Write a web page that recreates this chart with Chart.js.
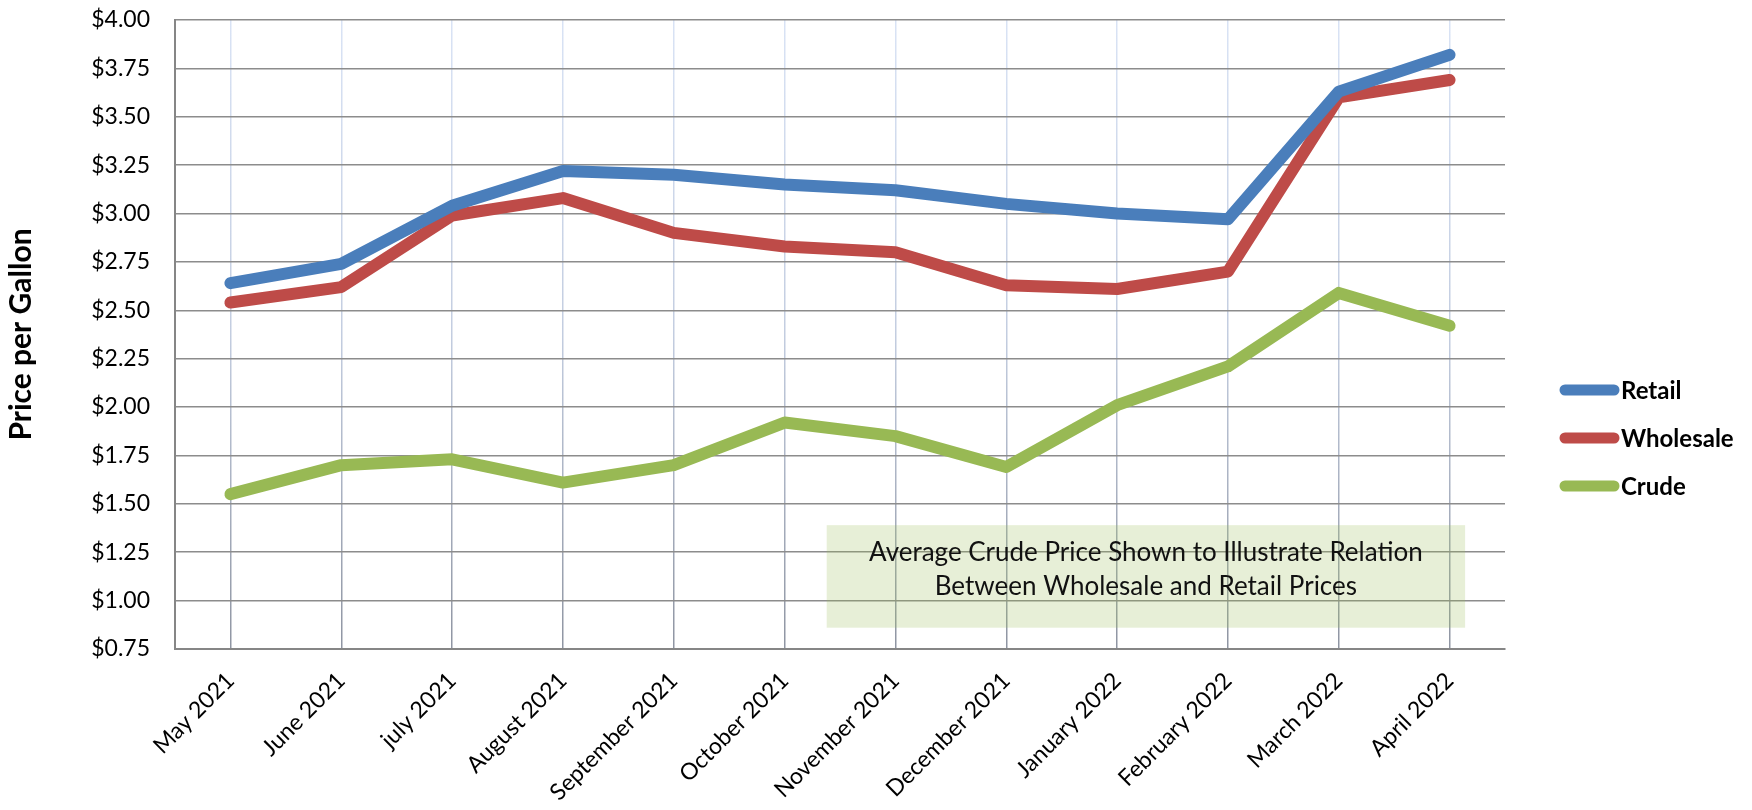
<!DOCTYPE html>
<html>
<head>
<meta charset="utf-8">
<script src="https://cdn.jsdelivr.net/npm/chart.js@4.4.1/dist/chart.umd.min.js"></script>
<style>
  html, body { margin: 0; padding: 0; background: #ffffff; }
  #wrap { width: 1752px; height: 810px; }
</style>
</head>
<body>
<div id="wrap"><canvas id="c" width="1752" height="810"></canvas></div>
<script>
const categories = ["May 2021", "June 2021", "july 2021", "August 2021", "September 2021", "October 2021",
  "November 2021", "December 2021", "January 2022", "February 2022", "March 2022", "April 2022"];
const retail    = [2.64, 2.74, 3.04, 3.22, 3.20, 3.15, 3.12, 3.05, 3.00, 2.97, 3.63, 3.82];
const wholesale = [2.54, 2.62, 2.99, 3.08, 2.90, 2.83, 2.80, 2.63, 2.61, 2.70, 3.60, 3.69];
const crude     = [1.55, 1.70, 1.73, 1.61, 1.70, 1.92, 1.85, 1.69, 2.01, 2.21, 2.59, 2.42];
const seriesNames = ["Retail", "Wholesale", "Crude"];
const seriesColors = ["#4a7ebb", "#be4b48", "#98b954"];
const yMin = 0.75, yMax = 4.00, yStep = 0.25;
const yTitle = "Price per Gallon";
const noteLines = ["Average Crude Price Shown to Illustrate Relation", "Between Wholesale and Retail Prices"];
const noteBox = { x0: 5.38, x1: 11.14, y0: 0.86, y1: 1.39 };

const FONT = "Lato, 'Open Sans', 'DejaVu Sans', sans-serif";

const gridGradient = (ctx) => {
  const chart = ctx.chart;
  const a = chart.chartArea;
  if (!a) return "#c8d3e8";
  const g = chart.ctx.createLinearGradient(0, a.top, 0, a.bottom);
  g.addColorStop(0, "#d9e3f5");
  g.addColorStop(0.5, "#c3cde0");
  g.addColorStop(1, "#8f95a2");
  return g;
};

const notePlugin = {
  id: "note",
  beforeDatasetsDraw(chart) {
    const { ctx, scales } = chart;
    const x = scales.x, y = scales.y;
    const left = x.getPixelForValue(noteBox.x0), right = x.getPixelForValue(noteBox.x1);
    const top = y.getPixelForValue(noteBox.y1), bottom = y.getPixelForValue(noteBox.y0);
    ctx.save();
    ctx.fillStyle = "rgba(155,187,89,0.24)";
    ctx.fillRect(left, top, right - left, bottom - top);
    ctx.fillStyle = "#111111";
    ctx.font = "26px " + FONT;
    ctx.textAlign = "center";
    ctx.textBaseline = "middle";
    const cx = (left + right) / 2, cy = (top + bottom) / 2;
    ctx.fillText(noteLines[0], cx, cy - 24);
    ctx.fillText(noteLines[1], cx, cy + 10);
    ctx.restore();
  }
};

const legendPlugin = {
  id: "customLegend",
  afterDraw(chart) {
    const { ctx } = chart;
    const x0 = 1565, x1 = 1614, ty = 390, gap = 48;
    ctx.save();
    chart.data.datasets.forEach((ds, i) => {
      const yy = ty + i * gap;
      ctx.strokeStyle = ds.borderColor;
      ctx.lineWidth = 11;
      ctx.lineCap = "round";
      ctx.beginPath();
      ctx.moveTo(x0, yy);
      ctx.lineTo(x1, yy);
      ctx.stroke();
      ctx.fillStyle = "#000000";
      ctx.font = "bold 24px " + FONT;
      ctx.textAlign = "left";
      ctx.textBaseline = "middle";
      ctx.fillText(ds.label, 1621, yy + 1);
    });
    ctx.restore();
  }
};

new Chart(document.getElementById("c"), {
  type: "line",
  data: {
    labels: categories,
    datasets: [retail, wholesale, crude].map((d, i) => ({
      label: seriesNames[i],
      data: d,
      borderColor: seriesColors[i],
      backgroundColor: seriesColors[i],
      borderWidth: 12,
      borderCapStyle: "round",
      borderJoinStyle: "round",
      pointRadius: 0,
      pointHoverRadius: 0,
      tension: 0,
      fill: false
    }))
  },
  options: {
    responsive: false,
    animation: false,
    events: [],
    layout: { padding: { left: 0, top: 20, right: 247, bottom: 0 } },
    plugins: {
      legend: { display: false },
      tooltip: { enabled: false },
      title: { display: false }
    },
    scales: {
      x: {
        offset: true,
        grid: { offset: false, color: gridGradient, lineWidth: 1.5, drawTicks: false },
        border: { color: "#868686", width: 2 },
        ticks: {
          minRotation: 45, maxRotation: 45, autoSkip: false,
          padding: 18, color: "#000000",
          font: { family: FONT, size: 23 }
        },
        afterFit(scale) { scale.height = 161; }
      },
      y: {
        min: yMin, max: yMax,
        grid: { color: "#8c8c8c", lineWidth: 1.5, drawTicks: false },
        border: { color: "#868686", width: 2 },
        ticks: {
          stepSize: yStep, padding: 25, color: "#000000",
          font: { family: FONT, size: 23 },
          callback: (v) => "$" + Number(v).toFixed(2)
        },
        title: {
          display: true, text: yTitle, color: "#000000",
          font: { family: FONT, size: 30, weight: "bold" },
          padding: { top: 3, bottom: 0 }
        },
        afterFit(scale) {
          scale.width = 175;
          scale.paddingTop = 12;
          scale.paddingBottom = 12;
        }
      }
    }
  },
  plugins: [notePlugin, legendPlugin]
});
</script>
</body>
</html>
